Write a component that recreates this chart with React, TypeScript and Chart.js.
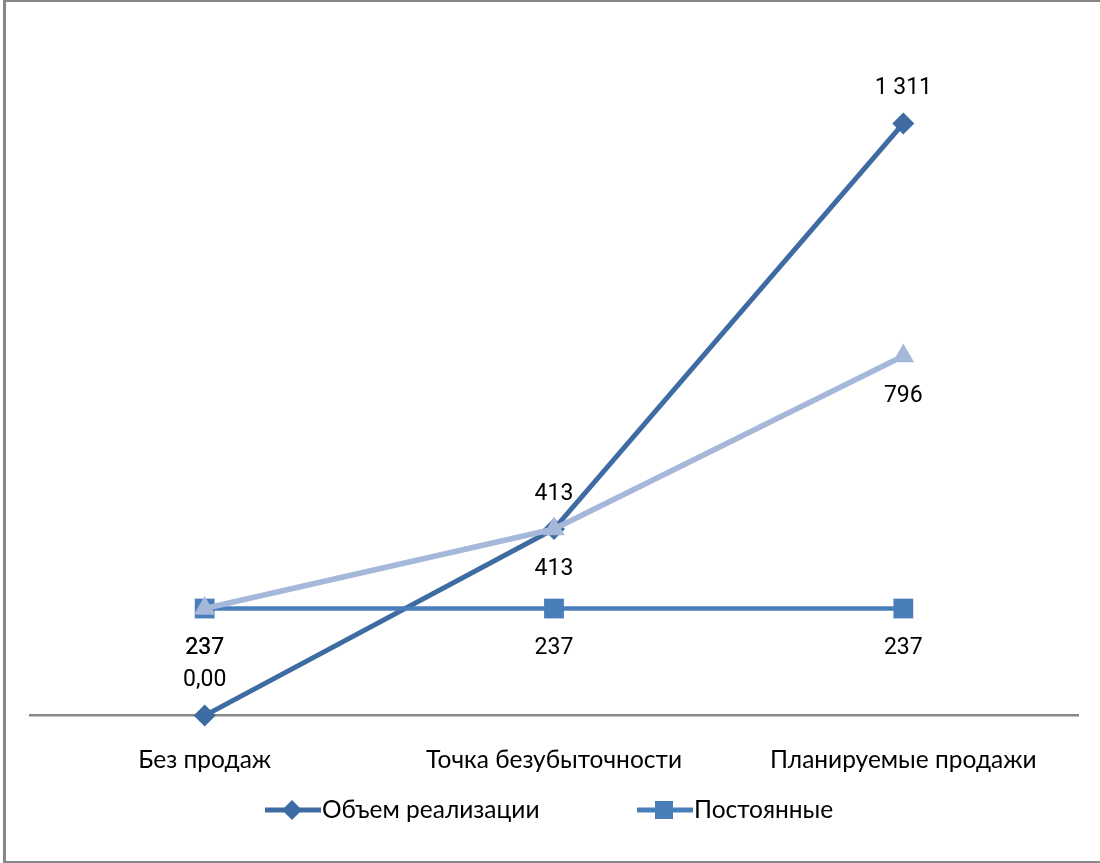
import React, { useEffect, useRef } from "react";
import { Chart, registerables } from "chart.js";

Chart.register(...registerables);

const categories = ["Без продаж", "Точка безубыточности", "Планируемые продажи"];
const salesVolume = [0, 413, 1311];
const fixedCosts = [237, 237, 237];
const totalCosts = [237, 413, 796];
const salesLabels = ["0,00", "413", "1 311"];
const fixedLabels = ["237", "237", "237"];
const totalLabels = ["237", "413", "796"];
const seriesNames = ["Объем реализации", "Постоянные", "Общие затраты"];

const COL_SALES = "#3E6BA1";
const COL_FIXED = "#4A7EBB";
const COL_TOTAL = "#A6B8D9";

const dataLabelPlugin = {
  id: "valueLabels",
  afterDatasetsDraw(chart: any) {
    const ctx = chart.ctx;
    chart.data.datasets.forEach((ds: any, i: number) => {
      const meta = chart.getDatasetMeta(i);
      meta.data.forEach((pt: any, j: number) => {
        ctx.save();
        ctx.font = "23px Roboto";
        ctx.fillStyle = "#000";
        ctx.textAlign = "center";
        ctx.textBaseline = "middle";
        const dy = ds.labelPos === "above" ? -35 : 40;
        ctx.fillText(ds.valueLabels[j], pt.x, pt.y + dy);
        ctx.restore();
      });
    });
  },
};

const legendPlugin = {
  id: "customLegend",
  afterDraw(chart: any) {
    const ctx = chart.ctx;
    const items = [
      { ds: chart.data.datasets[0], x: 265 },
      { ds: chart.data.datasets[1], x: 637 },
    ];
    const y = 810;
    items.forEach(({ ds, x }) => {
      ctx.save();
      ctx.strokeStyle = ds.borderColor;
      ctx.lineWidth = 5;
      ctx.beginPath();
      ctx.moveTo(x, y);
      ctx.lineTo(x + 56, y);
      ctx.stroke();
      ctx.fillStyle = ds.pointBackgroundColor;
      const cx = x + 27;
      ctx.beginPath();
      if (ds.pointStyle === "rectRot") {
        ctx.moveTo(cx, y - 10);
        ctx.lineTo(cx + 10, y);
        ctx.lineTo(cx, y + 10);
        ctx.lineTo(cx - 10, y);
        ctx.closePath();
      } else {
        ctx.rect(cx - 9, y - 9, 18, 18);
      }
      ctx.fill();
      ctx.font = "24.5px Lato";
      ctx.fillStyle = "#000";
      ctx.textAlign = "left";
      ctx.textBaseline = "middle";
      ctx.fillText(ds.label, x + 57, y);
      ctx.restore();
    });
  },
};

export default function App() {
  const ref = useRef<HTMLCanvasElement | null>(null);

  useEffect(() => {
    if (!ref.current) return;
    const chart = new Chart(ref.current, {
      type: "line",
      data: {
        labels: categories,
        datasets: [
          {
            label: seriesNames[0],
            data: salesVolume,
            borderColor: COL_SALES,
            backgroundColor: COL_SALES,
            pointBackgroundColor: COL_SALES,
            pointBorderColor: COL_SALES,
            borderWidth: 5,
            pointStyle: "rectRot",
            pointRadius: 11,
            pointBorderWidth: 0,
            order: 2,
            clip: false,
            valueLabels: salesLabels,
            labelPos: "above",
          } as any,
          {
            label: seriesNames[1],
            data: fixedCosts,
            borderColor: COL_FIXED,
            backgroundColor: COL_FIXED,
            pointBackgroundColor: COL_FIXED,
            pointBorderColor: COL_FIXED,
            borderWidth: 4.5,
            pointStyle: "rect",
            pointRadius: 14,
            pointBorderWidth: 0,
            order: 1,
            clip: false,
            valueLabels: fixedLabels,
            labelPos: "below",
          } as any,
          {
            label: seriesNames[2],
            data: totalCosts,
            borderColor: COL_TOTAL,
            backgroundColor: COL_TOTAL,
            pointBackgroundColor: COL_TOTAL,
            pointBorderColor: COL_TOTAL,
            borderWidth: 5.5,
            pointStyle: "triangle",
            pointRadius: 12.5,
            pointBorderWidth: 0,
            order: 0,
            clip: false,
            valueLabels: totalLabels,
            labelPos: "below",
          } as any,
        ],
      },
      options: {
        responsive: false,
        animation: false,
        layout: { padding: { left: 30, right: 22, top: 38, bottom: 58 } },
        plugins: {
          legend: { display: false },
          tooltip: { enabled: false },
        },
        scales: {
          x: {
            offset: true,
            grid: { display: false, drawTicks: false },
            border: { display: true, color: "#878787", width: 2.5 },
            ticks: {
              padding: 30,
              color: "#000",
              font: { family: "Lato", size: 24.5 },
              maxRotation: 0,
            },
          },
          y: { display: false, min: 0, max: 1500 },
        },
      },
      plugins: [dataLabelPlugin, legendPlugin],
    });
    return () => chart.destroy();
  }, []);

  return (
    <div style={{ position: "absolute", left: 0, top: 0, width: 1100, height: 863, background: "#fff", overflow: "hidden" }}>
      <div
        style={{
          position: "absolute",
          left: 3,
          top: 0,
          width: 1110,
          height: 859,
          borderLeft: "3px solid #878787",
          borderTop: "2px solid #878787",
          borderBottom: "2px solid #878787",
        }}
      />
      <canvas ref={ref} width={1100} height={863} style={{ position: "absolute", left: 0, top: 0 }} />
    </div>
  );
}
